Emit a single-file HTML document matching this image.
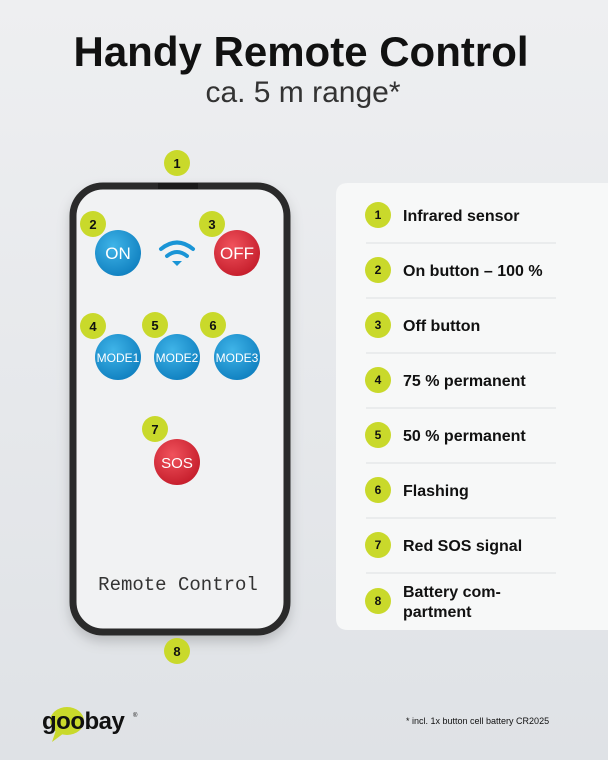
<!DOCTYPE html>
<html><head><meta charset="utf-8"><style>
html,body{margin:0;padding:0;width:608px;height:760px;overflow:hidden}
svg{display:block}
text{font-family:"Liberation Sans",sans-serif}
</style></head><body>
<svg width="608" height="760" viewBox="0 0 608 760" xmlns="http://www.w3.org/2000/svg">
<defs>
<linearGradient id="bg" x1="0" y1="0" x2="0" y2="1"><stop offset="0" stop-color="#eeeff1"/><stop offset="1" stop-color="#dfe2e6"/></linearGradient>
<radialGradient id="blue" cx="0.4" cy="0.35" r="0.7"><stop offset="0" stop-color="#3fb4e8"/><stop offset="1" stop-color="#0f7fbf"/></radialGradient>
<radialGradient id="red" cx="0.4" cy="0.35" r="0.7"><stop offset="0" stop-color="#f0525c"/><stop offset="1" stop-color="#c41c2a"/></radialGradient>
<filter id="sh" x="-20%" y="-20%" width="140%" height="140%"><feDropShadow dx="0" dy="6" stdDeviation="6" flood-color="#000" flood-opacity="0.18"/></filter>
</defs>
<rect width="608" height="760" fill="url(#bg)"/>
<text x="301" y="66" text-anchor="middle" font-size="42" font-weight="bold" fill="#111">Handy Remote Control</text>
<text x="303" y="102" text-anchor="middle" font-size="30" fill="#333">ca. 5 m range*</text>

<!-- remote -->
<rect x="73" y="186" width="214" height="446" rx="30" fill="#f1f2f3" stroke="#2b2b2b" stroke-width="7" filter="url(#sh)"/>
<rect x="158" y="183" width="40" height="6" fill="#1a1a1a"/>
<g fill="none" stroke="#1a95d6" stroke-width="4" stroke-linecap="round">
<path d="M161 249 Q177 236 193 249"/><path d="M167 256 Q177 248 187 256"/>
</g>
<path d="M172 261 L177 266 L182 261 Z" fill="#1a95d6"/>
<g font-size="16" fill="#fff" text-anchor="middle">
<circle cx="118" cy="253" r="23" fill="url(#blue)"/><text x="118" y="259" font-size="17">ON</text>
<circle cx="237" cy="253" r="23" fill="url(#red)"/><text x="237" y="259" font-size="17">OFF</text>
<circle cx="118" cy="357" r="23" fill="url(#blue)"/><text x="118" y="362" font-size="12">MODE1</text>
<circle cx="177" cy="357" r="23" fill="url(#blue)"/><text x="177" y="362" font-size="12">MODE2</text>
<circle cx="237" cy="357" r="23" fill="url(#blue)"/><text x="237" y="362" font-size="12">MODE3</text>
<circle cx="177" cy="462" r="23" fill="url(#red)"/><text x="177" y="468" font-size="15">SOS</text>
</g>
<text x="178" y="590" text-anchor="middle" style="font-family:'Liberation Mono',monospace" font-size="19" fill="#333">Remote Control</text>

<g fill="#c9d92b">
<circle cx="177" cy="163" r="13"/><circle cx="93" cy="224" r="13"/><circle cx="212" cy="224" r="13"/>
<circle cx="93" cy="326" r="13"/><circle cx="155" cy="325" r="13"/><circle cx="213" cy="325" r="13"/>
<circle cx="155" cy="429" r="13"/><circle cx="177" cy="651" r="13"/>
</g>
<g font-size="13" font-weight="bold" fill="#111" text-anchor="middle">
<text x="177" y="168">1</text><text x="93" y="229">2</text><text x="212" y="229">3</text>
<text x="93" y="331">4</text><text x="155" y="330">5</text><text x="213" y="330">6</text>
<text x="155" y="434">7</text><text x="177" y="656">8</text>
</g>

<!-- panel -->
<path d="M348 183 H608 V630 H348 Q336 630 336 618 V195 Q336 183 348 183 Z" fill="#f7f8f8"/>
<g stroke="#dcdfe2" stroke-width="1">
<line x1="366" y1="243" x2="556" y2="243"/><line x1="366" y1="298" x2="556" y2="298"/>
<line x1="366" y1="353" x2="556" y2="353"/><line x1="366" y1="408" x2="556" y2="408"/>
<line x1="366" y1="463" x2="556" y2="463"/><line x1="366" y1="518" x2="556" y2="518"/>
<line x1="366" y1="573" x2="556" y2="573"/>
</g>
<g fill="#c9d92b">
<circle cx="378" cy="215" r="13"/><circle cx="378" cy="270" r="13"/><circle cx="378" cy="325" r="13"/>
<circle cx="378" cy="380" r="13"/><circle cx="378" cy="435" r="13"/><circle cx="378" cy="490" r="13"/>
<circle cx="378" cy="545" r="13"/><circle cx="378" cy="601" r="13"/>
</g>
<g font-size="12" font-weight="bold" fill="#111" text-anchor="middle">
<text x="378" y="219">1</text><text x="378" y="274">2</text><text x="378" y="329">3</text>
<text x="378" y="384">4</text><text x="378" y="439">5</text><text x="378" y="494">6</text>
<text x="378" y="549">7</text><text x="378" y="605">8</text>
</g>
<g font-size="16" font-weight="bold" fill="#111">
<text x="403" y="221">Infrared sensor</text>
<text x="403" y="276">On button – 100 %</text>
<text x="403" y="331">Off button</text>
<text x="403" y="386">75 % permanent</text>
<text x="403" y="441">50 % permanent</text>
<text x="403" y="496">Flashing</text>
<text x="403" y="551">Red SOS signal</text>
<text x="403" y="597">Battery com-</text>
<text x="403" y="617">partment</text>
</g>

<!-- logo -->
<ellipse cx="67" cy="721" rx="17" ry="14" fill="#c9d92b"/>
<path d="M56 730 L52 742 L64 733 Z" fill="#c9d92b"/>
<text x="42" y="729" font-size="24" font-weight="bold" fill="#111" letter-spacing="-0.5">goobay</text>
<text x="133" y="717" font-size="6" fill="#111">®</text>
<text x="406" y="724" font-size="9" fill="#111">* incl. 1x button cell battery CR2025</text>
</svg>
</body></html>
